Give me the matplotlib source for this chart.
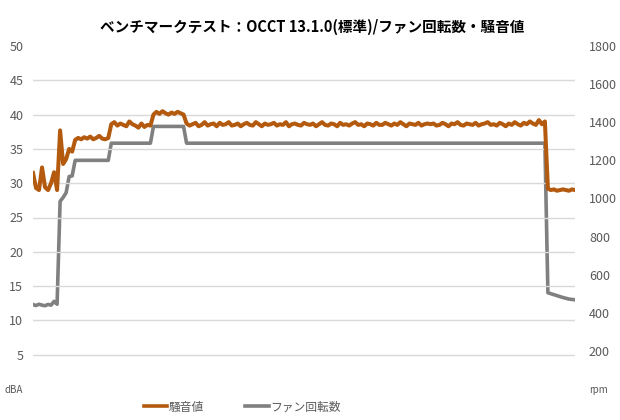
import matplotlib
matplotlib.use("Agg")
import matplotlib.pyplot as plt
from matplotlib.lines import Line2D

plt.rcParams['font.family'] = ['Noto Sans CJK JP', 'DejaVu Sans']

TITLE = "ベンチマークテスト：OCCT 13.1.0(標準)/ファン回転数・騒音値"
NOISE_LABEL = "騒音値"
FAN_LABEL = "ファン回転数"

# noise level (dBA), one sample every ~3 px of the original plot
noise = [
    31.5, 29.3, 29.0, 32.3, 29.4, 29.0, 30.0, 31.6, 29.0,
    37.7, 32.8, 33.5, 35.0, 34.6, 36.3,
    36.6, 36.4, 36.7, 36.5, 36.8, 36.4, 36.6, 36.9, 36.5, 36.4, 36.6,
    38.6, 38.9, 38.4, 38.7, 38.5, 38.3, 39.0, 38.6, 38.4, 38.1, 38.7, 38.2, 38.5, 38.4,
    40.0, 40.4, 40.1, 40.5, 40.2, 40.0, 40.3, 40.1, 40.4, 40.2, 40.0,
    38.7, 38.4, 38.6, 38.8, 38.3, 38.5, 38.9, 38.4, 38.6, 38.7, 38.3, 38.8, 38.5,
    38.6, 38.9, 38.4, 38.5, 38.7, 38.3, 38.6, 38.8, 38.5, 38.4, 38.9, 38.6, 38.3,
    38.7, 38.5, 38.6, 38.8, 38.4, 38.6, 38.5, 38.9, 38.3, 38.6, 38.7, 38.5, 38.4,
    38.8, 38.6, 38.5, 38.7, 38.3, 38.6, 38.9, 38.5, 38.4, 38.7, 38.6, 38.3, 38.8,
    38.5, 38.6, 38.4, 38.7, 38.9, 38.5, 38.6, 38.3, 38.7, 38.6, 38.4, 38.8, 38.5,
    38.5, 38.8, 38.6, 38.4, 38.7, 38.5, 38.9, 38.6, 38.3, 38.7, 38.6, 38.5, 38.8,
    38.4, 38.6, 38.7,
    38.6, 38.7, 38.4, 38.5, 38.8, 38.6, 38.3, 38.7, 38.6, 38.9, 38.5, 38.4, 38.7,
    38.6, 38.5, 38.8, 38.4, 38.6, 38.7, 38.9, 38.5, 38.6, 38.4, 38.8, 38.6, 38.3,
    38.7, 38.5, 38.9, 38.6, 38.4, 38.8, 38.6, 39.0, 38.7, 38.5, 39.2, 38.6, 39.0,
    29.2, 29.0, 29.1, 28.9, 29.0, 29.1, 29.0, 28.9, 29.1, 29.0,
]

# fan speed (rpm)
fan = [
    443, 438, 445, 440, 437, 444, 440, 460, 445,
    985, 1005, 1030, 1115, 1118, 1200,
    1200, 1200, 1200, 1200, 1200, 1200, 1200, 1200, 1200, 1200, 1200,
    1290, 1290, 1290, 1290, 1290, 1290, 1290, 1290, 1290, 1290, 1290, 1290, 1290, 1290,
    1378, 1378, 1378, 1378, 1378, 1378, 1378, 1378, 1378, 1378, 1378,
] + [1290] * 120 + [
    505, 500, 495, 490, 485, 480, 476, 472, 470, 468,
]

NOISE_COLOR = "#B35A0F"
FAN_COLOR = "#808080"
TEXT_COLOR = "#595959"

fig = plt.figure(figsize=(6.2, 4.2), dpi=100)
ax = fig.add_axes([33 / 620, 31 / 420, 542 / 620, 343 / 420])
ax2 = ax.twinx()

x = list(range(len(noise)))
ax2.plot(x, fan, color=FAN_COLOR, lw=2.6, zorder=2)
ax.plot(x, noise, color=NOISE_COLOR, lw=2.9, zorder=3)
ax.set_zorder(ax2.get_zorder() + 1)
ax.patch.set_visible(False)

ax.set_xlim(0, len(noise) - 1)
ax.set_ylim(0, 50)
ax2.set_ylim(0, 1800)
ax.set_yticks(range(0, 51, 5))
ax.set_yticklabels(["dBA"] + [str(v) for v in range(5, 51, 5)])
ax2.set_yticks(range(0, 1801, 200))
ax2.set_yticklabels(["rpm"] + [str(v) for v in range(200, 1801, 200)])
ax.set_xticks([])

for v in range(5, 50, 5):
    ax.axhline(v, color="#D9D9D9", lw=1, zorder=0)

for a in (ax, ax2):
    for s in a.spines.values():
        s.set_visible(False)
    a.tick_params(axis="y", length=0, colors=TEXT_COLOR, labelsize=9)
ax.tick_params(axis="y", pad=7)
ax2.tick_params(axis="y", pad=10)
ax.get_yticklabels()[0].set_fontsize(7)
ax2.get_yticklabels()[0].set_fontsize(7)

fig.text(0.503, 0.935, TITLE, ha="center", va="center", fontsize=10.5,
         fontweight="bold", color="black")

handles = [Line2D([], [], color=NOISE_COLOR, lw=2.6),
           Line2D([], [], color=FAN_COLOR, lw=2.6)]
fig.legend(handles, [NOISE_LABEL, FAN_LABEL], loc="center",
           bbox_to_anchor=(242 / 620, 13 / 420), ncol=2, frameon=False,
           fontsize=8.5, handlelength=2.0, handletextpad=0.1,
           columnspacing=3.5, labelcolor=TEXT_COLOR)

fig.savefig("out.png", dpi=100)
